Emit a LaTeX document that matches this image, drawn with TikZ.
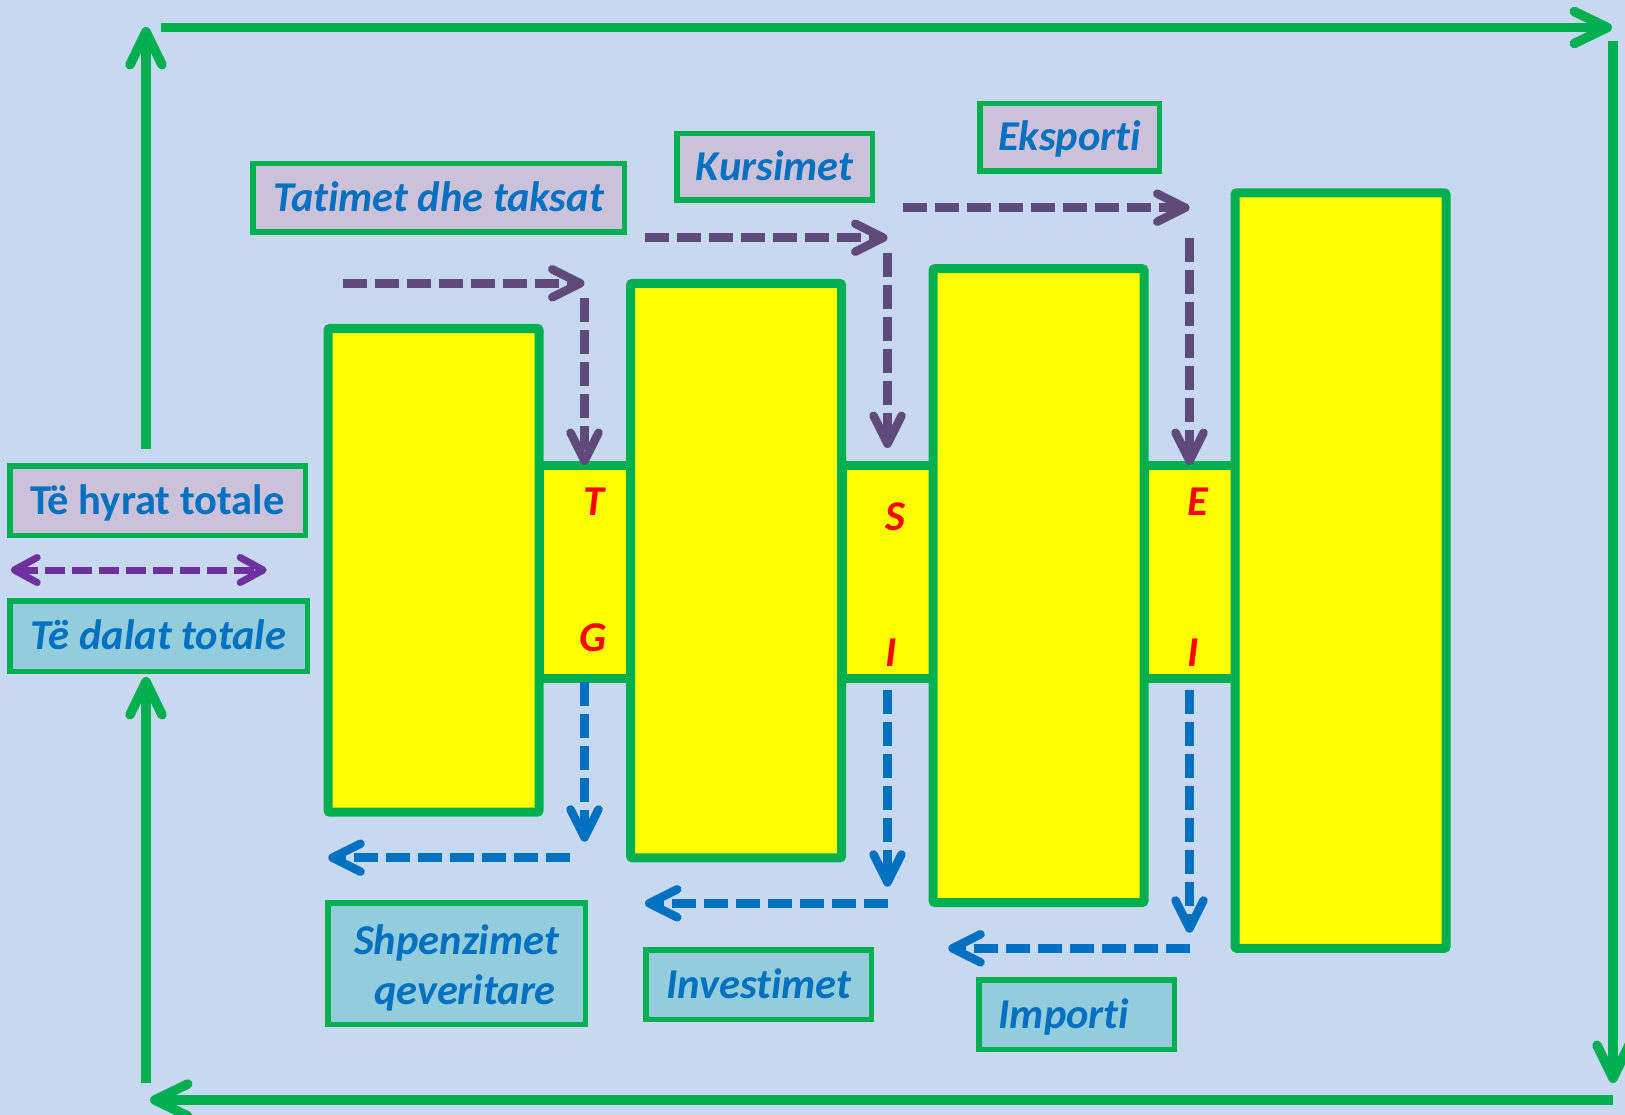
\documentclass[tikz,border=0pt]{standalone}
\usepackage{fontspec}
\setmainfont{Carlito}[Ligatures={NoCommon}]
\usetikzlibrary{arrows.meta,calc}
\definecolor{bgc}{RGB}{198,217,241}
\definecolor{grn}{RGB}{0,176,80}
\definecolor{ylw}{RGB}{255,255,0}
\definecolor{lavc}{RGB}{204,193,218}
\definecolor{aquac}{RGB}{147,205,221}
\definecolor{tblue}{RGB}{0,112,192}
\definecolor{dpur}{RGB}{96,74,123}
\definecolor{vpur}{RGB}{112,48,160}
\definecolor{rd}{RGB}{255,0,0}
\begin{document}
\begin{tikzpicture}[x=1pt,y=-1pt,
  big/.style={draw=grn,fill=ylw,line width=9pt,rounded corners=2pt,inner sep=0pt,outer sep=0pt,minimum width=211pt},
  link/.style={draw=grn,fill=ylw,line width=9pt,inner sep=0pt,outer sep=0pt,minimum width=91pt,minimum height=213pt},
  lblbase/.style={draw=grn,line width=5.5pt,text=tblue,inner sep=0pt,outer sep=0pt,
    font=\fontsize{42.5}{50}\selectfont\bfseries\itshape},
  lbl/.style={lblbase,text height=27pt,text depth=0pt,align=center},
  inbox/.style={lbl,fill=lavc},
  outbox/.style={lbl,fill=aquac},
  letter/.style={text=rd,inner sep=0pt,font=\fontsize{42.5}{50}\selectfont\bfseries\itshape,text height=27pt,text depth=0pt},
  garrow/.style={draw=grn,line width=9.5pt,-{Straight Barb[length=33pt,width=32pt,round]}},
  parrow/.style={draw=dpur,line width=8.5pt,dash pattern=on 24pt off 8pt,-{Straight Barb[length=28pt,width=28pt,round]}},
  barrow/.style={draw=tblue,line width=8.5pt,dash pattern=on 24pt off 8pt,-{Straight Barb[length=28pt,width=28pt,round]}},
  darrow/.style={draw=vpur,line width=7pt,dash pattern=on 20pt off 7pt,{Straight Barb[length=23pt,width=25pt,round]}-{Straight Barb[length=23pt,width=25pt,round]}},
]
\useasboundingbox (0,0) rectangle (1625,1115);
\fill[bgc] (0,0) rectangle (1625,1115);

% outer circuit
\coordinate (tl) at (161,27.5);
\coordinate (tr) at (1612,27.5);
\coordinate (rt) at (1613,41);
\coordinate (rb) at (1613,1083);
\coordinate (br) at (1613,1100);
\coordinate (bl) at (150,1100);
\coordinate (lb) at (146,1083);
\coordinate (lbt) at (146,677);
\coordinate (lu) at (146,449);
\coordinate (lut) at (146,27);
\draw[garrow] (tl) -- (tr);
\draw[garrow] (rt) -- (rb);
\draw[garrow] (br) -- (bl);
\draw[garrow] (lb) -- (lbt);
\draw[garrow] (lu) -- (lut);

% link boxes
\node[link] (tg) at (584.5,571.5) {};
\node[link] (si) at (887.5,571.5) {};
\node[link] (ei) at (1189.5,571.5) {};

% big boxes
\node[big,minimum height=483.7pt] (b1) at (433.5,570.35) {};
\node[big,minimum height=574.5pt] (b2) at (736,570.55) {};
\node[big,minimum height=633.8pt] (b3) at (1038.5,585.6) {};
\node[big,minimum height=755.5pt] (b4) at (1340.5,570.55) {};

% letters
\node[letter] (lT) at (593.8,501.7) {T};
\node[letter] (lG) at (593,638) {G};
\node[letter] (lS) at (895,516.7) {S};
\node[letter] (lI1) at (890.7,653.3) {I};
\node[letter] (lE) at (1198.3,501.7) {E};
\node[letter] (lI2) at (1193.3,653.3) {I};

% labels
\node[inbox,minimum width=371.5pt,minimum height=68.5pt] (tat) at (438.5,198) {Tatimet dhe taksat};
\node[inbox,minimum width=195.5pt,minimum height=66.5pt] (kur) at (774.5,167) {Kursimet};
\node[inbox,minimum width=179.5pt,minimum height=67.5pt] (eks) at (1069.5,137.5) {Eksporti};
\node[inbox,minimum width=295.5pt,minimum height=69.5pt,font=\fontsize{42.5}{50}\selectfont\bfseries] (hyr) at (157.5,500.5) {Të hyrat totale};
\node[outbox,minimum width=297.5pt,minimum height=70.5pt] (dal) at (158.5,636) {Të dalat totale};
\node[lblbase,fill=aquac,minimum width=257.5pt,minimum height=121.5pt] (shp) at (456.5,963.5)
  {\raisebox{-6pt}[\height][\depth]{\begin{tabular}{@{}l@{}}Shpenzimet\\\hspace*{20pt}qeveritare\end{tabular}}};
\node[outbox,minimum width=225.5pt,minimum height=69.5pt] (inv) at (758.5,984.5) {Investimet};
\node[outbox,minimum width=195.5pt,minimum height=69.5pt,text width=180pt,align=left] (imp) at (1076.5,1014.5) {\hspace*{12pt}Importi};

% double arrow
\coordinate (dl) at (10.7,570);
\coordinate (dr) at (266.7,570);
\draw[darrow] (dl) -- (dr);

% purple flows
\coordinate (p1a) at (343,283.3);
\coordinate (p1b) at (584.5,283.3);
\coordinate (p1c) at (584.5,298);
\draw[parrow] (p1a) -- (p1b);
\draw[parrow] (p1c) -- (tg.north);
\coordinate (p2a) at (645,237.7);
\coordinate (p2b) at (887.5,237.7);
\coordinate (p2c) at (887.5,253.3);
\coordinate (p2d) at (887.5,448);
\draw[parrow] (p2a) -- (p2b);
\draw[parrow] (p2c) -- (p2d);
\coordinate (p3a) at (902.7,207.7);
\coordinate (p3b) at (1189.5,207.7);
\coordinate (p3c) at (1189.5,238.3);
\draw[parrow] (p3a) -- (p3b);
\draw[parrow] (p3c) -- (ei.north);

% blue flows
\coordinate (q1a) at (584.5,682);
\coordinate (q1b) at (584.5,841.7);
\coordinate (q1c) at (570,857.7);
\coordinate (q1d) at (328.3,857.7);
\draw[barrow] (q1a) -- (q1b);
\draw[barrow] (q1c) -- (q1d);
\coordinate (q2a) at (887.5,690);
\coordinate (q2b) at (887.5,886.7);
\coordinate (q2c) at (887.5,903.3);
\coordinate (q2d) at (645,903.3);
\draw[barrow] (q2a) -- (q2b);
\draw[barrow] (q2c) -- (q2d);
\coordinate (q3a) at (1189.5,690);
\coordinate (q3b) at (1189.5,932.7);
\coordinate (q3c) at (1189.5,948.3);
\coordinate (q3d) at (948.3,948.3);
\draw[barrow] (q3a) -- (q3b);
\draw[barrow] (q3c) -- (q3d);
\end{tikzpicture}
\end{document}
